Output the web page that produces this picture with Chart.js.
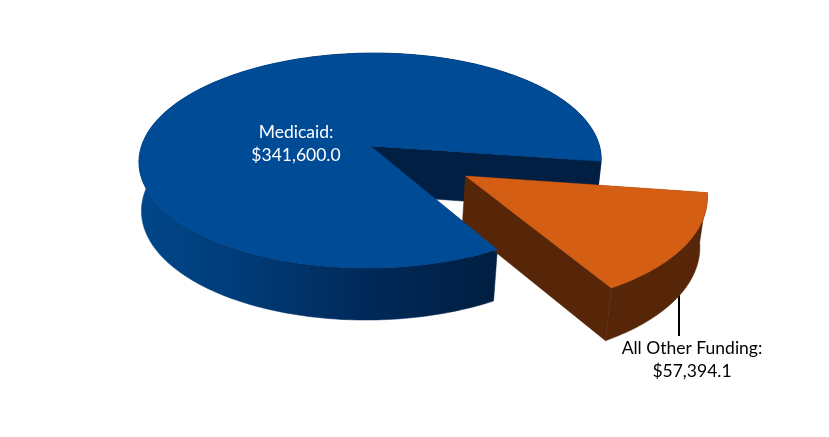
<!DOCTYPE html>
<html>
<head>
<meta charset="utf-8">
<style>
  html, body { margin: 0; padding: 0; background: #fff; }
  canvas { display: block; }
</style>
<script src="https://cdn.jsdelivr.net/npm/chart.js@4"></script>
</head>
<body>
<canvas id="pie" width="829" height="437"></canvas>
<script>
// ─── Data ────────────────────────────────────────────────
const categories = ["Medicaid", "All Other Funding"];
const values = [341600.0, 57394.1];

// ─── Style ───────────────────────────────────────────────
const topColors = ["#004b96", "#d45e13"];
const wallColors = ["#001f42", "#572608"];
const explode = [0, 48.7];      // % of radius, radius is set to 100 below

// ─── 3D view: the flat pie is tilted away, so the near side is bigger ────
const TILT = -0.135;
const SHEAR = 3.5;
const topFace = { cx: 368.5, cy: 146, a: 229, b: 105.5 };
const baseFace = { cx: 367, cy: 194.5, a: 225, b: 108.6 };
const CENTER_SHIFT = 0.0087;

function project(face, u, v) {
  const w = 1 + TILT * v;
  return [face.cx + face.a * (u + CENTER_SHIFT) / w - SHEAR * v, face.cy + face.b * v / w];
}

// unit-disc position of an arc, taking the explode offset into account
function arcGeom(arc) {
  const { startAngle, endAngle, outerRadius } = arc.getProps(["startAngle", "endAngle", "outerRadius"], true);
  const mid = (startAngle + endAngle) / 2;
  const off = (arc.options.offset || 0) / outerRadius;
  return { startAngle, endAngle, ox: Math.cos(mid) * off, oy: Math.sin(mid) * off };
}

function rimPoints(face, g) {
  const pts = [];
  const steps = Math.ceil((g.endAngle - g.startAngle) / 0.02);
  for (let i = 0; i <= steps; i++) {
    const t = g.startAngle + (g.endAngle - g.startAngle) * i / steps;
    pts.push(project(face, g.ox + Math.cos(t), g.oy + Math.sin(t)));
  }
  return pts;
}

function fillPath(ctx, pts, color, seam) {
  ctx.beginPath();
  pts.forEach((p, i) => i ? ctx.lineTo(p[0], p[1]) : ctx.moveTo(p[0], p[1]));
  ctx.closePath();
  ctx.fillStyle = color;
  ctx.fill();
  if (seam) {
    // thin stroke of the same colour, stops white hairlines between faces
    ctx.strokeStyle = color;
    ctx.lineWidth = seam;
    ctx.lineJoin = "round";
    ctx.stroke();
  }
}

function drawTop(ctx, arc) {
  const g = arcGeom(arc);
  fillPath(ctx, [project(topFace, g.ox, g.oy), ...rimPoints(topFace, g)], arc.options.backgroundColor, 0.4);
}

function drawWalls(ctx, arc, rimColor, cutColor, edgeAngle) {
  const g = arcGeom(arc);
  const top = rimPoints(topFace, g);
  const base = rimPoints(baseFace, g);
  // straight cut face, going from the centre out to the rim
  const c = Math.cos(edgeAngle), s = Math.sin(edgeAngle);
  fillPath(ctx, [
    project(topFace, g.ox, g.oy),
    project(topFace, g.ox + c, g.oy + s),
    project(baseFace, g.ox + c, g.oy + s),
    project(baseFace, g.ox, g.oy)
  ], cutColor, 0.5);
  fillPath(ctx, [...top, ...base.reverse()], rimColor, 0.5);
  // wall colour under the top face so its edge blends into the wall
  fillPath(ctx, [project(topFace, g.ox, g.oy), ...top], rimColor);
}

// ─── Plugin: replaces the flat arcs with the tilted pie ──
const pie3d = {
  id: "pie3d",
  beforeDatasetDraw(chart) {
    const ctx = chart.ctx;
    const [blue, orange] = chart.getDatasetMeta(0).data;

    const shade = ctx.createLinearGradient(144, 0, 492, 0);
    shade.addColorStop(0, "#004688");
    shade.addColorStop(0.25, "#003d7b");
    shade.addColorStop(0.62, "#002a5a");
    shade.addColorStop(1, wallColors[0]);

    // back wall of the big slice first, the rest stacks over it
    drawWalls(ctx, blue, shade, wallColors[0], arcGeom(blue).endAngle);

    // leader line runs out from under the brown wall
    ctx.strokeStyle = "#000";
    ctx.lineWidth = 2;
    ctx.beginPath();
    ctx.moveTo(679, 285);
    ctx.lineTo(679, 336);
    ctx.stroke();

    drawWalls(ctx, orange, wallColors[1], wallColors[1], arcGeom(orange).endAngle);
    drawTop(ctx, orange);
    drawTop(ctx, blue);
    return false;
  },
  afterDatasetsDraw(chart) {
    const ctx = chart.ctx;
    const money = v => "$" + v.toLocaleString("en-US", { minimumFractionDigits: 1, maximumFractionDigits: 1 });
    ctx.save();
    ctx.font = "17.5px Lato, Carlito, sans-serif";
    ctx.textAlign = "center";
    ctx.textBaseline = "middle";
    ctx.fillStyle = "#fff";
    ctx.fillText(categories[0] + ":", 296, 132);
    ctx.fillText(money(values[0]), 296, 155);
    ctx.fillStyle = "#000";
    ctx.fillText(categories[1] + ":", 692, 348);
    ctx.fillText(money(values[1]), 692, 371);
    ctx.restore();
  }
};

// ─── Chart ───────────────────────────────────────────────
new Chart(document.getElementById("pie").getContext("2d"), {
  type: "pie",
  data: {
    labels: categories,
    datasets: [{
      data: values,
      backgroundColor: topColors,
      borderWidth: 0,
      offset: explode
    }]
  },
  options: {
    responsive: false,
    animation: false,
    devicePixelRatio: 1,
    radius: 100,
    rotation: 150,
    plugins: { legend: { display: false }, tooltip: { enabled: false } }
  },
  plugins: [pie3d]
});
</script>
</body>
</html>
